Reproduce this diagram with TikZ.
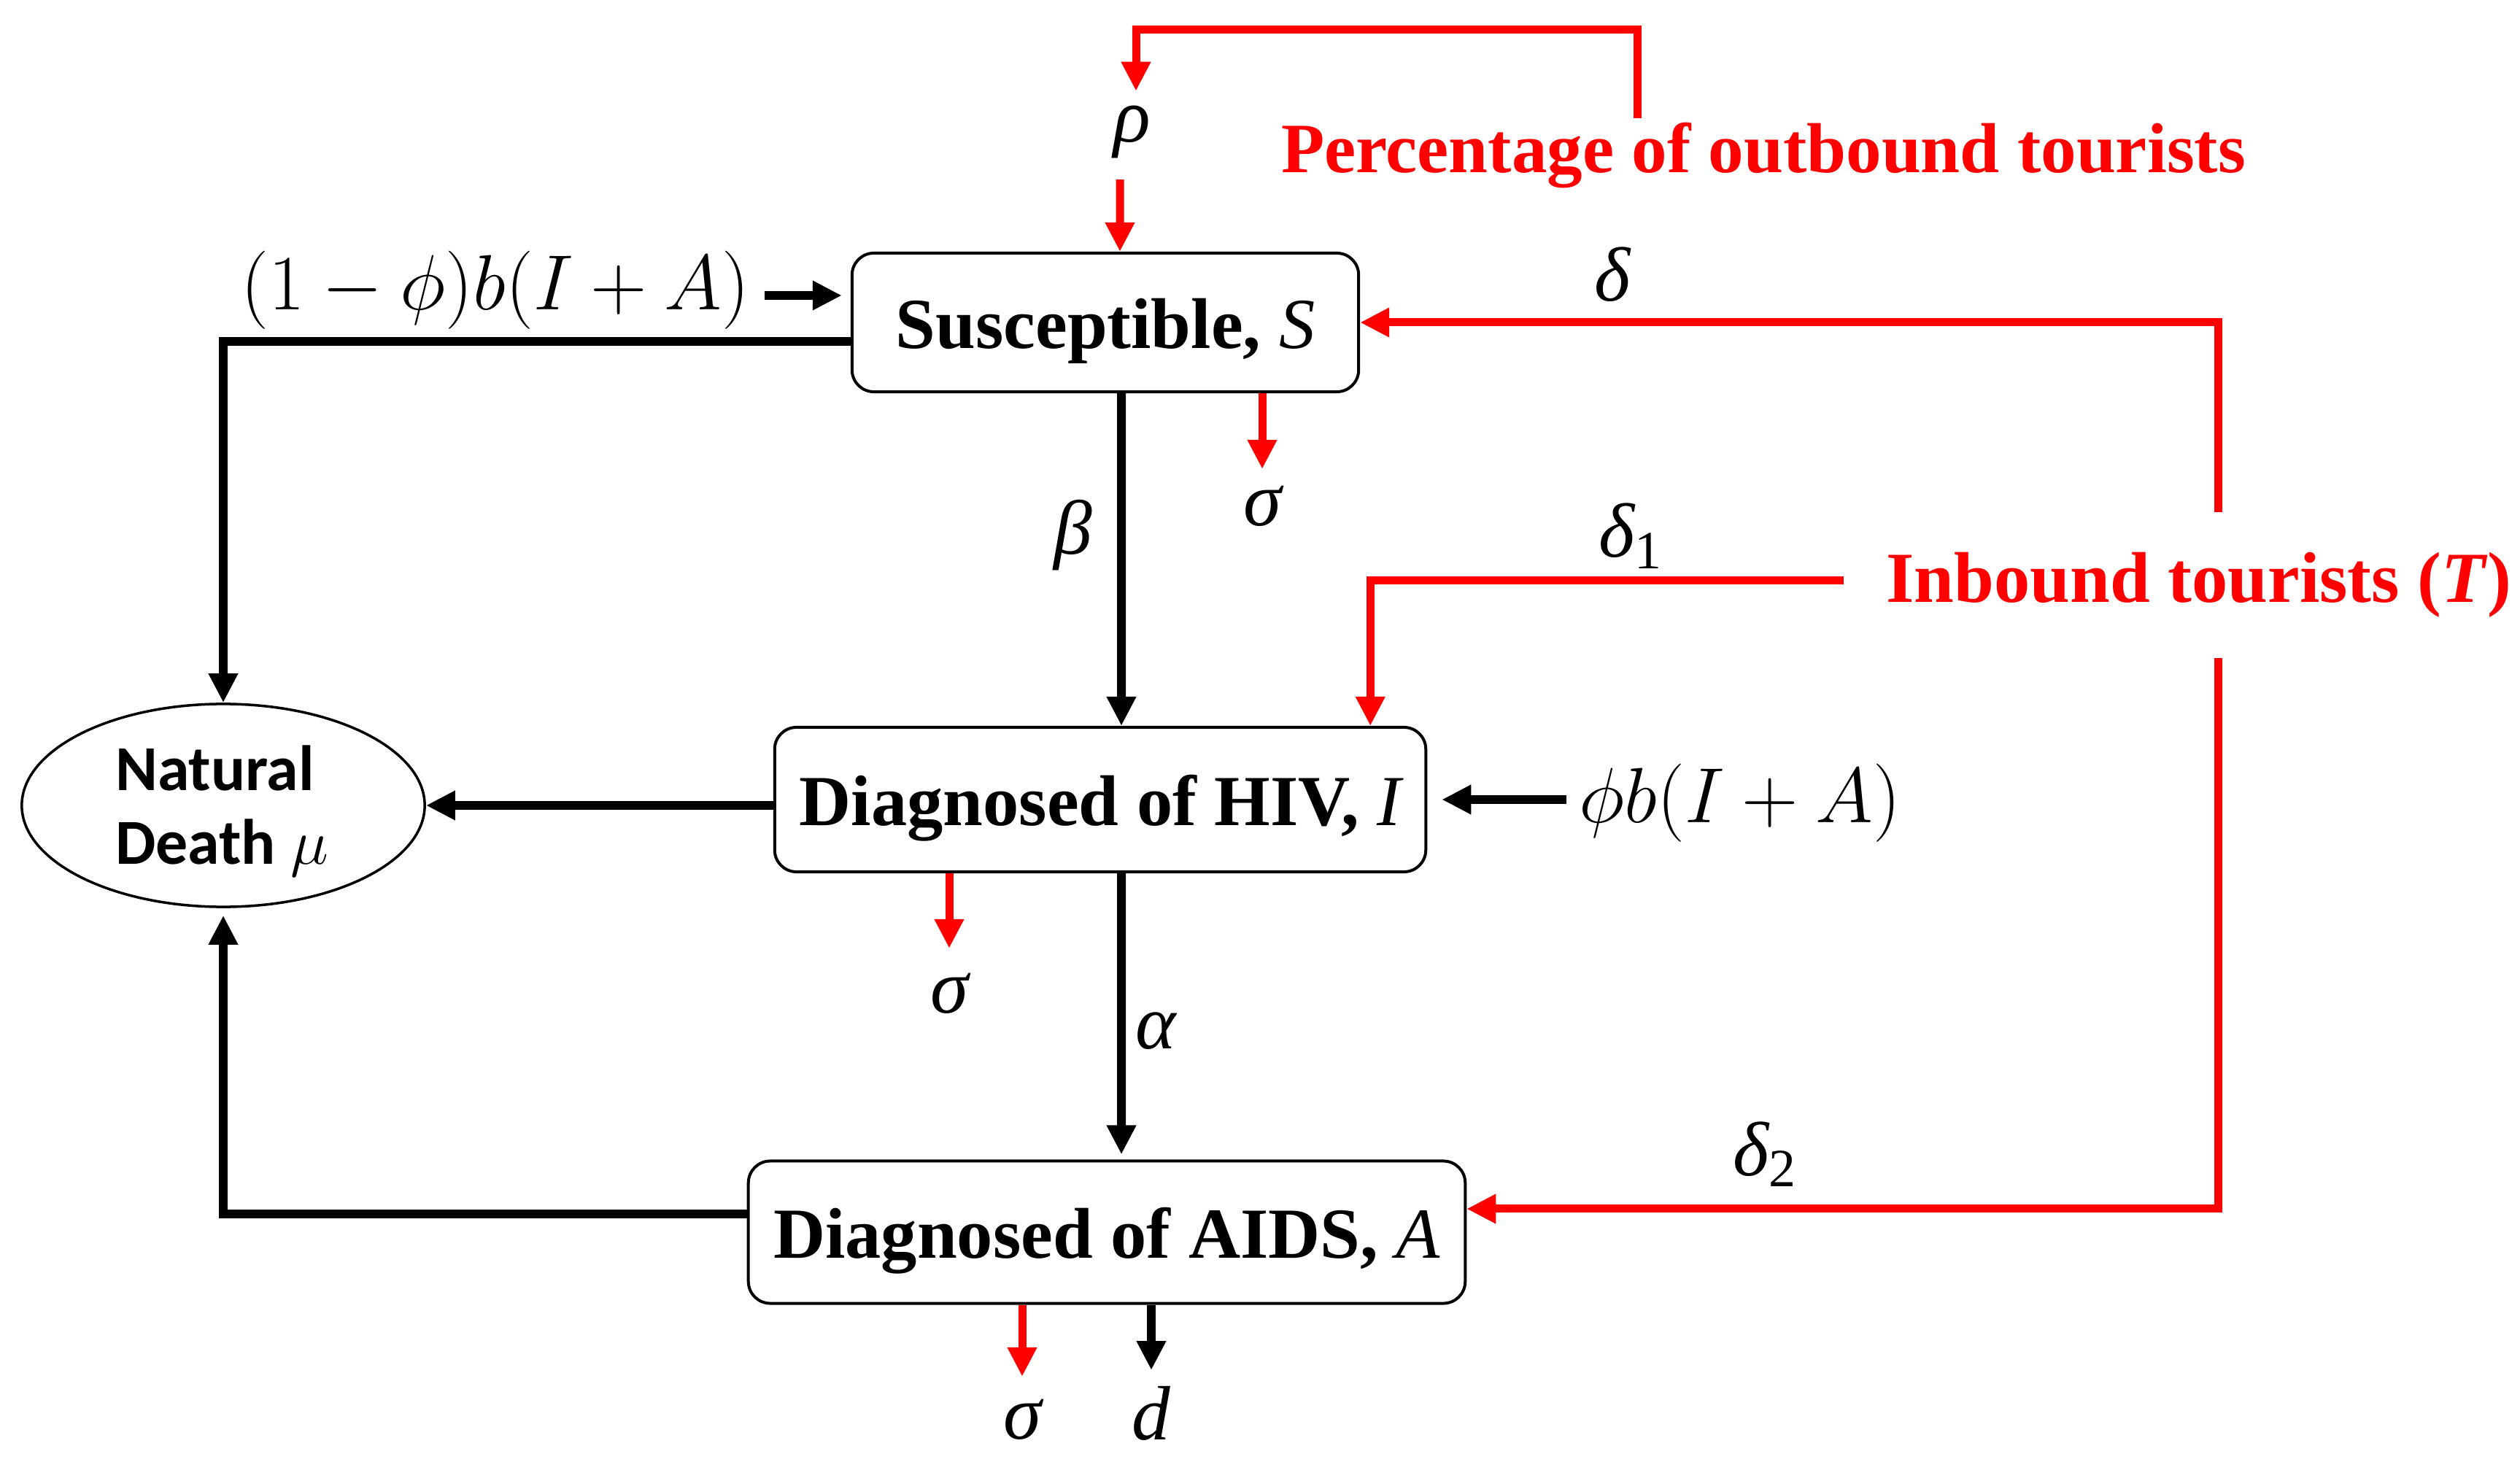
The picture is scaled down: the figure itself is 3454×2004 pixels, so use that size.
\RequirePackage{fix-cm}
\documentclass[tikz,border=0pt]{standalone}
\usepackage{fontspec}
\setmainfont{Liberation Serif}
\newfontfamily\calib{Carlito}
\usetikzlibrary{arrows.meta,shapes.geometric}
\definecolor{rd}{RGB}{255,0,0}
\begin{document}
\begin{tikzpicture}[x=0.01cm,y=-0.01cm,
  box/.style={draw, line width=0.04cm, rounded corners=0.3cm, inner sep=0pt, text height=20pt, text depth=0pt, font=\fontsize{28}{34}\selectfont\bfseries},
  blk/.style={black, line width=0.12cm, -{Triangle[length=0.4cm,width=0.38cm]}},
  rarr/.style={rd, line width=0.11cm, -{Triangle[length=0.4cm,width=0.38cm]}},
  greek/.style={font=\fontsize{30}{36}\selectfont\itshape, inner sep=0pt, anchor=base},
  mathl/.style={font=\fontsize{30.5}{36}\selectfont, inner sep=0pt, anchor=base},
  rtext/.style={text=rd, font=\fontsize{28}{34}\selectfont\bfseries, inner sep=0pt, anchor=base}]
\useasboundingbox (0,0) rectangle (3454,2004);

% compartments
\node[box, minimum width=6.94cm, minimum height=1.90cm] (S) at (1515,442) {Susceptible, {\mdseries\itshape S}};
\node[box, minimum width=8.92cm, minimum height=1.98cm] (I) at (1508,1096) {Diagnosed of HIV, {\mdseries\itshape I}};
\node[box, minimum width=9.82cm, minimum height=1.95cm] (A) at (1517,1689) {Diagnosed of AIDS, {\mdseries\itshape A}};
\node[draw, ellipse, line width=0.035cm, minimum width=5.52cm, minimum height=2.78cm, inner sep=0pt] (nd) at (306,1104) {};
\node[font=\calib\fontsize{25}{28.7}\selectfont\bfseries, align=left, inner sep=0pt] (ndt) at (304,1112) {Natural\\Death $\mu$};

% labels
\node[greek] (rho) at (1552,195) {ρ};
\node[rtext, font=\fontsize{27.6}{34}\selectfont\bfseries] (pct) at (2417,237) {Percentage of outbound tourists};
\node[greek] (delta) at (2210,413) {δ};
\node[mathl] (inS) at (679,425) {$(1-\phi)b(I+A)$};
\node[greek] (sig1) at (1730,721) {σ};
\node[greek] (beta) at (1471,760) {β};
\node[greek] (del1) at (2235,764) {δ\textsubscript{\upshape 1}};
\node[rtext] (inb) at (3014,826) {Inbound tourists (\textit{T})};
\node[mathl] (inI) at (2385,1127) {$\phi b(I+A)$};
\node[greek] (sig2) at (1301,1388) {σ};
\node[greek] (alpha) at (1584,1437) {α};
\node[greek] (del2) at (2419,1611) {δ\textsubscript{\upshape 2}};
\node[greek] (sig3) at (1401,1972) {σ};
\node[greek] (dd) at (1578,1973) {d};

% free ends
\coordinate (t1) at (2244,162);
\coordinate (t2) at (1557,41);
\coordinate (t3) at (3040,702);
\coordinate (t4) at (2527,796);
\coordinate (t5) at (3040,902);
\coordinate (c1) at (1048,405);
\coordinate (c2) at (2147,1096);

% red connectors
\draw[rarr, shorten >=0.2cm] (t1) |- (t2) -- (t2 |- rho.north);
\draw[rarr, shorten <=0.28cm] ([xshift=-0.17cm]rho.south) -- ([xshift=0.2cm]S.north);
\draw[rarr] (t3) |- (S.east);
\draw[rarr] (t4) -| ([xshift=3.7cm]I.north);
\draw[rarr] (t5) |- ([yshift=0.32cm]A.east);
\draw[rarr, shorten >=0.23cm] (sig1.north |- S.south) -- (sig1.north);
\draw[rarr, shorten >=0.33cm] (sig2.north |- I.south) -- (sig2.north);
\draw[rarr, shorten >=0.3cm] (sig3.north |- A.south) -- (sig3.north);

% black connectors
\draw[blk, shorten >=0.21cm] (dd.north |- A.south) -- (dd.north);
\draw[blk, shorten >=0.12cm] (c1) -- (S.west |- c1);
\draw[blk] ([yshift=-0.26cm]S.west) -| (nd.north);
\draw[blk] ([xshift=0.22cm]S.south) -- ([xshift=0.29cm]I.north);
\draw[blk, shorten >=0.07cm] ([xshift=0.29cm]I.south) -- ([xshift=0.2cm]A.north);
\draw[blk] (I.west |- nd.east) -- (nd.east);
\draw[blk, shorten >=0.1cm] ([yshift=0.25cm]A.west) -| (nd.south);
\draw[blk] (c2) -- ([xshift=0.2cm]I.east);
\end{tikzpicture}
\end{document}
